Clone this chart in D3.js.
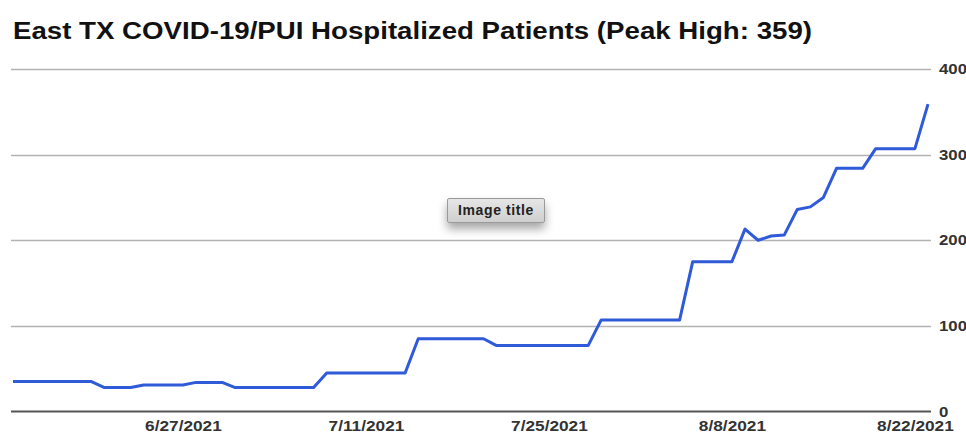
<!DOCTYPE html>
<html>
<head>
<meta charset="utf-8">
<script src="https://cdn.jsdelivr.net/npm/d3@7"></script>
<style>
  body { margin: 0; background: #fff; }
  #main { position: relative; width: 966px; height: 438px; }
  .axis text { font-family: "Liberation Sans", Arial, sans-serif; font-weight: bold; fill: #333; }
  .imgtitle {
    position: absolute; left: 447px; top: 198px; width: 98px; height: 25px;
    box-sizing: border-box; border: 1px solid #9a9a9a; border-radius: 2px;
    background: linear-gradient(#e6e6e6, #cfcfcf);
    box-shadow: 0 6px 10px rgba(0,0,0,0.35);
    font: bold 14px "Liberation Sans", Arial, sans-serif; color: #222;
    letter-spacing: 0.6px;
    text-align: center; line-height: 23px;
  }
</style>
</head>
<body>
<div id="main"></div>
<script>
var title = "East TX COVID-19/PUI Hospitalized Patients (Peak High: 359)";

var dates = [
  "6/14/2021", "6/15/2021", "6/16/2021", "6/17/2021", "6/18/2021", "6/19/2021", "6/20/2021",
  "6/21/2021", "6/22/2021", "6/23/2021", "6/24/2021", "6/25/2021", "6/26/2021", "6/27/2021",
  "6/28/2021", "6/29/2021", "6/30/2021", "7/1/2021", "7/2/2021", "7/3/2021", "7/4/2021",
  "7/5/2021", "7/6/2021", "7/7/2021", "7/8/2021", "7/9/2021", "7/10/2021", "7/11/2021",
  "7/12/2021", "7/13/2021", "7/14/2021", "7/15/2021", "7/16/2021", "7/17/2021", "7/18/2021",
  "7/19/2021", "7/20/2021", "7/21/2021", "7/22/2021", "7/23/2021", "7/24/2021", "7/25/2021",
  "7/26/2021", "7/27/2021", "7/28/2021", "7/29/2021", "7/30/2021", "7/31/2021", "8/1/2021",
  "8/2/2021", "8/3/2021", "8/4/2021", "8/5/2021", "8/6/2021", "8/7/2021", "8/8/2021",
  "8/9/2021", "8/10/2021", "8/11/2021", "8/12/2021", "8/13/2021", "8/14/2021", "8/15/2021",
  "8/16/2021", "8/17/2021", "8/18/2021", "8/19/2021", "8/20/2021", "8/21/2021", "8/22/2021",
  "8/23/2021"
];

var patients = [
  35, 35, 35, 35, 35, 35, 35,
  28, 28, 28, 31, 31, 31, 31,
  34, 34, 34, 28, 28, 28, 28,
  28, 28, 28, 45, 45, 45, 45,
  45, 45, 45, 85, 85, 85, 85,
  85, 85, 77, 77, 77, 77, 77,
  77, 77, 77, 107, 107, 107, 107,
  107, 107, 107, 175, 175, 175, 175,
  213, 200, 205, 206, 236, 239, 250,
  284, 284, 284, 307, 307, 307, 307,
  359
];

var xTickLabels = ["6/27/2021", "7/11/2021", "7/25/2021", "8/8/2021", "8/22/2021"];
var yTicks = [0, 100, 200, 300, 400];

var parse = d3.timeParse("%-m/%-d/%Y");
var data = dates.map(function(d, i) {
  return { date: parse(d), value: patients[i] };
});

var width = 966, height = 438;
var plotLeft = 11, plotRight = 931;

var x = d3.scaleTime()
  .domain(d3.extent(data, function(d) { return d.date; }))
  .range([13, 928]);

var y = d3.scaleLinear()
  .domain([0, 400])
  .range([411.5, 69]);

var svg = d3.select("#main").append("svg")
  .attr("width", width)
  .attr("height", height);

// the source picture is a bit stretched sideways, so widen the text
function widen(sel, k) {
  sel.each(function() {
    var w = this.getComputedTextLength();
    d3.select(this)
      .attr("textLength", w * k)
      .attr("lengthAdjust", "spacingAndGlyphs");
  });
}

svg.append("text")
  .attr("x", 13)
  .attr("y", 39)
  .style("font-family", "'Liberation Sans', Arial, sans-serif")
  .style("font-size", "23px")
  .style("font-weight", "bold")
  .style("fill", "#111")
  .text(title)
  .attr("textLength", 799)
  .attr("lengthAdjust", "spacingAndGlyphs");

// gridlines + right labels
var yAxis = svg.append("g")
  .attr("class", "axis y")
  .attr("transform", "translate(" + plotRight + ",0)")
  .call(d3.axisRight(y).tickValues(yTicks).tickSize(0).tickPadding(8));
yAxis.select(".domain").remove();
yAxis.selectAll("text").style("font-size", "15px").attr("dy", "0.3em");
widen(yAxis.selectAll("text"), 1.12);

svg.append("g")
  .selectAll("line")
  .data(yTicks.filter(function(t) { return t > 0; }))
  .enter().append("line")
  .attr("x1", plotLeft)
  .attr("x2", plotRight)
  .attr("y1", function(d) { return Math.round(y(d)) + 0.5; })
  .attr("y2", function(d) { return Math.round(y(d)) + 0.5; })
  .style("stroke", "#b3b3b3")
  .style("stroke-width", 1.5);

// x axis labels
var xAxis = svg.append("g")
  .attr("class", "axis x")
  .attr("transform", "translate(0," + y(0) + ")")
  .call(d3.axisBottom(x)
    .tickValues(xTickLabels.map(parse))
    .tickFormat(d3.timeFormat("%-m/%-d/%Y"))
    .tickSize(0)
    .tickPadding(9));
xAxis.select(".domain").remove();
xAxis.selectAll("text").style("font-size", "15px");
widen(xAxis.selectAll("text"), 1.15);

// baseline
svg.append("line")
  .attr("x1", plotLeft)
  .attr("x2", plotRight)
  .attr("y1", y(0))
  .attr("y2", y(0))
  .style("stroke", "#555")
  .style("stroke-width", 2);

var line = d3.line()
  .x(function(d) { return x(d.date); })
  .y(function(d) { return y(d.value); });

svg.append("path")
  .datum(data)
  .attr("d", line)
  .style("fill", "none")
  .style("stroke", "#2f5ad8")
  .style("stroke-width", 3)
  .style("stroke-linejoin", "round");

d3.select("#main").append("div")
  .attr("class", "imgtitle")
  .text("Image title");
</script>
</body>
</html>
